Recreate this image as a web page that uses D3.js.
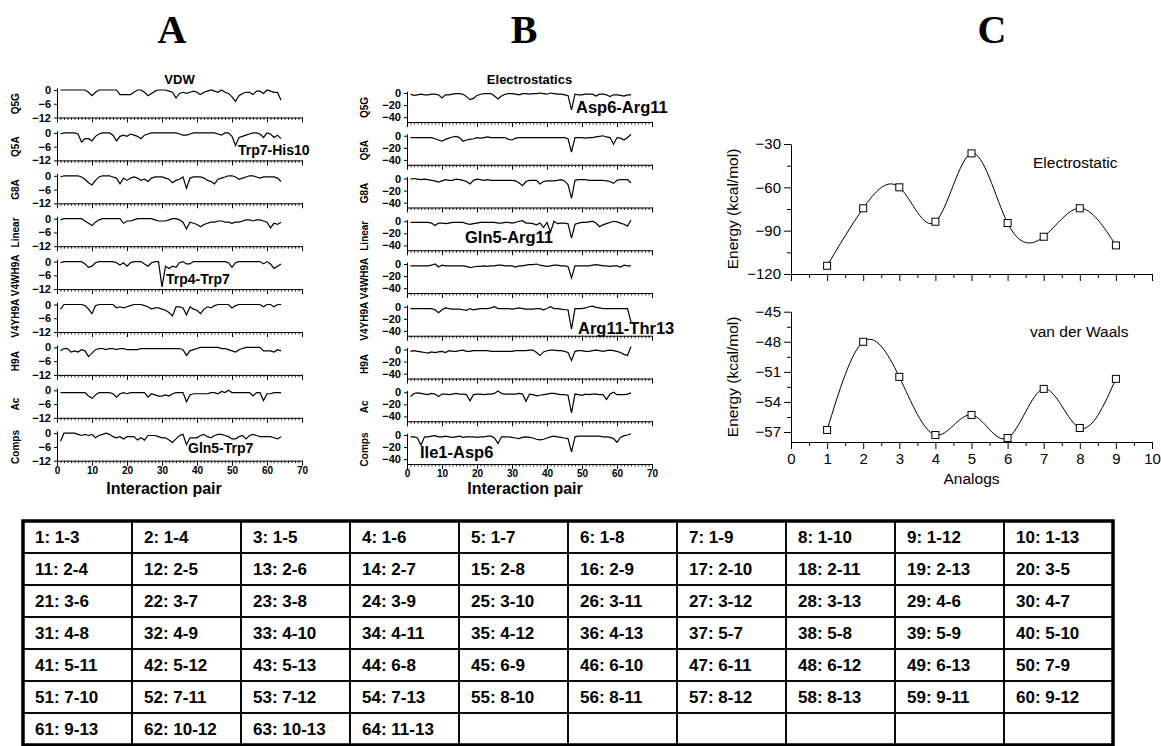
<!DOCTYPE html>
<html><head><meta charset="utf-8">
<script src="https://cdn.jsdelivr.net/npm/d3@7"></script>
<style>body{margin:0;background:#fff}</style>
</head><body><svg id="c" width="1161" height="746"></svg>
<script>
// ---------------- DATA ----------------
const pairIndex = d3.range(1, 65);
const subplotNames = ["Q5G","Q5A","G8A","Linear","V4WH9A","V4YH9A","H9A","Ac","Comps"];

// Panel A: van der Waals per interaction pair (kcal/mol)
const vdwQ5G = [0,0,0,0,0,0,0,0,-1,-2.5,-1,0,0,0,0,0,0,-2,-2,-2,-2,-1,0,0,-1,-2.5,-1.5,-0.5,0,0,0,-0.5,-1,-3.5,-1.5,-1,-1.5,-1,-0.5,-1,-2,-1,-0.5,0,-0.5,-1,0,-1,-1.5,-3,-5,-2.5,-1.5,-1,-1,-2,-0.5,-0.5,-1.5,0,-0.5,-1,-1,-4.5];
const vdwQ5A = [-0.5,0,0,0,0,-0.5,-4,-2.5,-2.5,-3.5,-1.5,-0.5,0,0,0,-1,-3.5,-1.5,-1,-1.5,-0.5,-1,-1.5,-2.5,-1,-0.5,0,0,0,0,0,0,0,0,-0.5,-1,-1,-0.5,0,0,0,0,0,0,0,-0.5,-1,0,0,-1.5,-5.5,-2,-1.5,-1,-0.5,0,0,-0.5,-2,0,-0.5,-2,-1,-2.5];
const vdwG8A = [-0.5,0,0,0,0,0,-0.5,-1.5,-3,-4,-2,-0.5,0,0,0,-0.5,-1,-3.5,-1,-2,-1,-0.5,-1,-2,-1.5,-2.5,-1,-0.5,-0.5,-0.5,-1,-1.5,-3,-2,-1.5,-0.5,-5.5,-1,-0.5,-0.5,-0.5,-1,-2,-2.5,-3.5,-1.5,-1,-0.5,0,0,-0.5,-1.5,-1,-0.5,0,0,-0.5,-1,-0.5,-0.5,-0.5,-0.5,-1,-2.5];
const vdwLinear = [-0.5,0,0,0,0,0,0,-1,-2,-3,-1.5,-0.5,0,0,0,0,0,0,-2,-1,-1,-0.5,0,0,0,0,0,-0.5,-1,-1,-1,-0.5,0,0,-0.5,-1.5,-4.5,-1.5,-2,-2.5,-3.5,-2.5,-2,-1.5,-1.5,-1,-1,-1.5,-1.5,-2,-1.5,-1.5,-1,-0.5,-0.5,-1,-0.5,-0.5,-1,-1.5,-4,-2,-2.5,-1.5];
const vdwV4WH9A = [-0.5,0,0,0,0,0,0,-1,-2.5,-2,-0.5,0,0,0,0,0,-0.5,-1.5,-0.5,-2,-0.5,0,0,0,-1,-2,-0.5,0,0,-11,-2,-3,-2,-2.5,-0.5,0,-1,-1,0,0,0,0,0,0,0,0,0,0,-0.5,-2.5,-0.5,0,0,0,0,0,0,0,-1,0,-1,-3,-2,-1];
const vdwV4YH9A = [-2,0,0,0,0,0,0,-0.5,-2,-4,-0.5,0,0,0,0,0,-1.5,-1,-1.5,-1,-0.5,0,0,0,-0.5,-1,-2,-1.5,-1.5,-2,-2.5,-3.5,-5,-1,-1,-1.5,-4.5,-1,-2,-2.5,-4,-2,-1,-1.5,-0.5,0,0,0,0,-1.5,-0.5,0,0,0,0,0,0,0,-1,0,0,-1,0,0];
const vdwH9A = [-1.5,-0.5,-0.5,-2,-1.5,-2,-1,-1.5,-4,-2.5,-1,-0.5,-0.5,-1,-0.5,-0.5,-1,-0.5,-0.5,-1,-1,-1,-1,-0.5,-0.5,-0.5,-0.5,-0.5,-0.5,-0.5,-0.5,-0.5,-0.5,-0.5,-0.5,-1,-3.5,-1.5,-1,-0.5,0,0,0,0,0,0,-0.5,-0.5,-1,-1.5,-2,-1,-0.5,0,0,0,0,0,-1.5,-1.5,-1.5,-2,-1,-1.5];
const vdwAc = [-1,-1,-1,-1,-1,-1,-1,-1,-2.5,-3.5,-2,-1,-1,-1,-1,-1.5,-3,-1.5,-1,-1.5,-1,-1,-1,-1,-1,-3,-1.5,-2,-2.5,-2.5,-2,-2.5,-1.5,-1,-1,-1,-5,-2,-1.5,-1.5,-1.5,-1.5,-1.5,-1,-1,-1.5,-0.5,-1,0,-1,-1,-1,-1,-1,-1,-2.5,-1,-1,-4.5,-1.5,-1.5,-1,-1,-1];
const vdwComps = [-3.5,0,0,0,0,-0.5,-1,-0.5,-1,-0.5,-2,-1,-0.5,0,-0.5,-1.5,-2,-1.5,-2.5,-1.5,-1.5,-1.5,-3,-2,-3,-1,-1,-1,-1.5,-2,-2,-3,-4,-2.5,-1,-0.5,-5,-2,-2,-2,-1,-0.5,-1.5,-2,-1,-0.5,-0.5,-1,-1.5,-2.5,-2.5,-1.5,-1,-2.5,-1,-0.5,-1,-1.5,-1.5,-1.5,-1.5,-2,-2.5,-1.5];

// Panel B: electrostatics per interaction pair (kcal/mol)
const elQ5G = [-2,-4,-3,-2,-3,-3,-2,-2,-3,-8,-3,-3,-2,-1,-1,-2,-6,-11,-9,-4,-2,-1,-1,-1,-5,-10,-5,-2,-1,-1,-2,-3,-1,-1,-2,-1,-1,0,-1,-2,0,-1,-2,-2,-3,-4,-28,-2,-3,-3,-2,-2,-2,-5,-2,-2,-3,-6,-3,-3,-4,-5,-3,-3];
const elQ5A = [-3,-3,-3,-3,-3,-3,-3,-5,-7,-9,-6,-4,-2,-1,-3,-9,-7,-6,-5,-3,-4,-3,-2,-3,-3,-3,-3,-3,-6,-7,-4,-3,-3,-3,-3,-3,-3,-3,-3,-3,-3,-3,-3,-3,-3,-5,-27,-3,-3,-3,-4,-3,-3,-2,-1,0,-2,-3,-14,-3,-4,-7,-3,2];
const elG8A = [-1,0,-1,-2,-1,-2,-3,-4,-6,-4,-2,-3,-3,-1,-2,-3,-5,-9,-3,-1,-2,-3,-2,-3,-3,-3,-3,-3,-3,-3,-4,-7,-12,-5,-3,-3,-3,-9,-5,-4,-4,-4,-3,-2,-4,-10,-33,-3,-2,-2,-2,-3,-3,-3,-3,-3,-4,-5,-8,-3,-2,-2,-2,-7];
const elLinear = [-2,-2,-2,-2,-2,-2,-3,-7,-3,-3,-4,-3,-2,-2,-2,-2,-4,-5,-4,-3,-2,-2,-2,-2,-2,-3,-3,-2,-2,-3,-2,0,1,-3,-3,-4,-6,-3,-10,-2,-18,0,-4,-3,-3,-4,-28,-5,-3,-2,-2,-1,0,-3,-9,-6,-4,-2,0,-1,-3,-5,-8,2];
const elV4WH9A = [-3,-3,-3,-3,-3,-3,-2,0,-5,-2,-3,-3,-3,-3,-3,-3,-4,-6,-5,-4,-4,-3,-4,-3,-3,-2,-2,-3,-3,-3,-5,-3,-3,-2,-1,-1,0,-2,-3,-4,-3,-2,-2,-3,-3,-4,-23,-3,-3,-3,-3,-3,-2,-1,-2,-3,-3,-4,-3,-3,-5,-2,-3,-3];
const elV4YH9A = [-3,-3,-3,-3,-3,-3,-3,-5,-10,-5,-2,-3,-4,-4,-4,-5,-6,-3,-5,-4,-3,-3,-3,-2,0,-3,-3,-3,-3,-4,-3,-2,-3,-4,-4,-4,-3,-3,-5,-3,0,-3,-3,-4,-5,-5,-37,-3,-3,-3,-2,0,1,-1,-2,-3,-3,-3,-3,-3,-3,-3,-3,-25];
const elH9A = [-3,-2,-3,-4,-5,-6,-4,-5,-4,-3,-5,-2,-3,-3,-2,-1,-3,-3,-2,-2,-2,-2,-2,-3,-3,-3,-3,-3,-3,-3,-2,-2,-2,-2,-1,-1,-5,-10,-4,-2,-1,-1,-2,-2,-3,-5,-18,-3,-2,-2,-3,-3,-2,-1,-2,-3,-2,-1,-2,-3,-5,-8,-10,5];
const elAc = [-7,-2,-1,-2,-3,-4,-2,-3,-7,-3,-3,-4,-3,-2,-3,-3,-4,-14,-4,-3,-3,-4,-3,-3,-2,2,-2,-3,-3,-3,-3,-2,-3,-15,-3,-4,-6,-5,-4,-3,-2,-2,-3,-4,-4,-5,-34,-3,-4,-5,-3,-4,-3,-3,-4,-4,-12,-3,0,-4,-4,-4,-3,-1];
const elComps = [-3,-3,-5,-17,-3,-3,-2,-1,-3,-3,-2,-3,-4,-3,-2,-4,-3,-3,-3,-4,-3,-3,-2,-2,-5,-14,-3,-3,-3,-4,-5,-6,-4,-3,-4,-5,-7,-8,-7,-5,-3,-2,-3,-4,-5,-6,-28,-3,-2,-2,-2,-2,-2,-2,-2,-3,-3,-4,-6,-12,-4,-1,0,2];

const vdwSeries = [vdwQ5G, vdwQ5A, vdwG8A, vdwLinear, vdwV4WH9A, vdwV4YH9A, vdwH9A, vdwAc, vdwComps];
const elecSeries = [elQ5G, elQ5A, elG8A, elLinear, elV4WH9A, elV4YH9A, elH9A, elAc, elComps];
const vdwTicks = [0, -6, -12];
const elecTicks = [0, -20, -40];
const pairTicks = [0, 10, 20, 30, 40, 50, 60, 70];

// Panel C: total energies per analog
const analogs = [1, 2, 3, 4, 5, 6, 7, 8, 9];
const elecTotal = [-114.3, -74.5, -60, -83.8, -36.5, -84.7, -94.2, -74.5, -100.2];
const vdwTotal = [-56.8, -48, -51.5, -57.3, -55.3, -57.6, -52.7, -56.6, -51.7];
const analogTicks = [0, 1, 2, 3, 4, 5, 6, 7, 8, 9, 10];
const elecTotalTicks = [-30, -60, -90, -120];
const vdwTotalTicks = [-45, -48, -51, -54, -57];

// Table of interaction pairs
const pairLabels = ["1-3","1-4","1-5","1-6","1-7","1-8","1-9","1-10","1-12","1-13",
 "2-4","2-5","2-6","2-7","2-8","2-9","2-10","2-11","2-13","3-5",
 "3-6","3-7","3-8","3-9","3-10","3-11","3-12","3-13","4-6","4-7",
 "4-8","4-9","4-10","4-11","4-12","4-13","5-7","5-8","5-9","5-10",
 "5-11","5-12","5-13","6-8","6-9","6-10","6-11","6-12","6-13","7-9",
 "7-10","7-11","7-12","7-13","8-10","8-11","8-12","8-13","9-11","9-12",
 "9-13","10-12","10-13","11-13"];

// ---------------- DRAW ----------------
const svg = d3.select("#c");
svg.append("rect").attr("width", 1161).attr("height", 746).attr("fill", "#fff");
const SANS = "'Liberation Sans', Arial, sans-serif";

function styleAxis(g, size, weight) {
  g.attr("font-family", SANS).attr("font-size", size).attr("font-weight", weight);
  g.selectAll("path,line").attr("stroke", "#000").attr("stroke-width", 1);
  g.selectAll("text").attr("fill", "#000");
}

function stackPanel(o) {
  const x = d3.scaleLinear().domain([0, 70]).range([o.x0, o.x1]);
  const g = svg.append("g");
  o.series.forEach((vals, k) => {
    const t = o.top0 + k * o.step;
    const y = d3.scaleLinear().domain([o.ymin, 0]).range([t + o.h, t]);
    const yTop = y(o.ymax);
    const ya = g.append("g").attr("transform", `translate(${o.x0},0)`)
      .call(d3.axisLeft(y.copy().domain([o.ymin, o.ymax]).range([t + o.h, yTop]))
        .tickValues(o.ticks).tickSize(3).tickSizeOuter(0).tickPadding(3));
    styleAxis(ya, o.tickFont, "bold");
    const xa = g.append("g").attr("transform", `translate(0,${t + o.h})`)
      .call(d3.axisBottom(x).tickValues(pairTicks).tickSize(5).tickSizeOuter(0)
        .tickFormat(k === o.series.length - 1 ? d3.format("d") : () => "").tickPadding(1));
    styleAxis(xa, 10, "bold");
    const xm = g.append("g").attr("transform", `translate(0,${t + o.h})`)
      .call(d3.axisBottom(x).tickValues(d3.range(0, 71)).tickSize(2.5).tickFormat(() => ""));
    xm.select(".domain").remove();
    styleAxis(xm, 10, "bold");
    xm.selectAll("line").attr("stroke-width", 0.8);
    g.append("text").attr("transform", `translate(${o.nameX},${t + o.h / 2}) rotate(-90)`)
      .attr("text-anchor", "middle").attr("dy", "0.35em")
      .attr("font-family", SANS).attr("font-weight", "bold").attr("font-size", 10)
      .text(subplotNames[k]);
    const line = d3.line().x((d, i) => x(pairIndex[i])).y(d => y(d));
    g.append("path").datum(vals).attr("d", line).attr("fill", "none")
      .attr("stroke", "#000").attr("stroke-width", 1.2);
  });
  g.append("text").attr("x", (o.x0 + o.x1) / 2).attr("y", o.titleY).attr("text-anchor", "middle")
    .attr("font-family", SANS).attr("font-weight", "bold").attr("font-size", 13).text(o.title);
  g.append("text").attr("x", o.xLabelX).attr("y", o.xLabelY).attr("text-anchor", "middle")
    .attr("font-family", SANS).attr("font-weight", "bold").attr("font-size", 16).text("Interaction pair");
  return g;
}

stackPanel({series: vdwSeries, x0: 57, x1: 302, top0: 90, step: 42.9, h: 27.5,
  ymin: -12, ymax: 1, ticks: vdwTicks, tickFont: 11, nameX: 15, title: "VDW", titleY: 84,
  xLabelX: 164, xLabelY: 494});
stackPanel({series: elecSeries, x0: 407, x1: 652, top0: 93, step: 42.75, h: 29,
  ymin: -48, ymax: 3, ticks: elecTicks, tickFont: 11, nameX: 364, title: "Electrostatics", titleY: 84,
  xLabelX: 525, xLabelY: 494});

function annot(txt, x, y, size) {
  svg.append("text").attr("x", x).attr("y", y).attr("font-family", SANS)
    .attr("font-weight", "bold").attr("font-size", size).attr("fill", "#000").text(txt);
}
annot("Trp7-His10", 238, 155, 14);
annot("Trp4-Trp7", 166, 284, 14);
annot("Gln5-Trp7", 188, 453, 14);
annot("Asp6-Arg11", 576, 113, 16.5);
annot("Gln5-Arg11", 465, 243, 16.5);
annot("Arg11-Thr13", 578, 334, 16.5);
annot("Ile1-Asp6", 420, 458, 16.5);

[["A", 172], ["B", 524], ["C", 992]].forEach(([t, x]) => {
  svg.append("text").attr("x", x).attr("y", 43).attr("text-anchor", "middle")
    .attr("font-family", "'Liberation Serif', 'Times New Roman', serif").attr("font-weight", "bold")
    .attr("font-size", 40).text(t);
});

// Panel C
const xC = d3.scaleLinear().domain([0, 10]).range([791, 1152]);
function linePanel(vals, domain, r0, r1, ticks, minors, showLabels, label, labelX, labelY) {
  const y = d3.scaleLinear().domain(domain).range([r0, r1]);
  const g = svg.append("g");
  const ya = g.append("g").attr("transform", `translate(${xC(0)},0)`)
    .call(d3.axisLeft(y).tickValues(ticks).tickSize(7).tickSizeOuter(0).tickPadding(3));
  styleAxis(ya, 15, "normal");
  const ym = g.append("g").attr("transform", `translate(${xC(0)},0)`)
    .call(d3.axisLeft(y).tickValues(minors).tickSize(4).tickFormat(() => ""));
  ym.select(".domain").remove(); styleAxis(ym, 15, "normal");
  const xa = g.append("g").attr("transform", `translate(0,${r0})`)
    .call(d3.axisBottom(xC).tickValues(analogTicks).tickSize(7).tickSizeOuter(0)
      .tickFormat(showLabels ? d3.format("d") : () => "").tickPadding(4));
  styleAxis(xa, 15, "normal");
  const xm = g.append("g").attr("transform", `translate(0,${r0})`)
    .call(d3.axisBottom(xC).tickValues(d3.range(0.5, 10, 1)).tickSize(4).tickFormat(() => ""));
  xm.select(".domain").remove(); styleAxis(xm, 15, "normal");
  const line = d3.line().x((d, i) => xC(analogs[i])).y(d => y(d)).curve(d3.curveNatural);
  g.append("path").datum(vals).attr("d", line).attr("fill", "none").attr("stroke", "#000").attr("stroke-width", 1);
  g.selectAll("rect.m").data(vals).join("rect").attr("class", "m")
    .attr("x", (d, i) => xC(analogs[i]) - 3.5).attr("y", d => y(d) - 3.5)
    .attr("width", 7).attr("height", 7).attr("fill", "#fff").attr("stroke", "#000").attr("stroke-width", 1);
  g.append("text").attr("x", labelX).attr("y", labelY).attr("font-family", SANS)
    .attr("font-size", 15.5).text(label);
  g.append("text").attr("transform", `translate(733,${(r0 + r1) / 2}) rotate(-90)`)
    .attr("text-anchor", "middle").attr("dy", "0.35em").attr("font-family", SANS)
    .attr("font-size", 15.5).text("Energy (kcal/mol)");
}
linePanel(elecTotal, [-120, -30], 274, 144, elecTotalTicks, [-45, -75, -105], false, "Electrostatic", 1033, 168);
linePanel(vdwTotal, [-58, -45], 442, 311.7, vdwTotalTicks, [-46.5, -49.5, -52.5, -55.5], true, "van der Waals", 1030, 337);
svg.append("text").attr("x", (xC(0) + xC(10)) / 2).attr("y", 484).attr("text-anchor", "middle")
  .attr("font-family", SANS).attr("font-size", 15.5).text("Analogs");

// Table
const tLeft = 23, tTop = 521, colW = 109, rowH = 32, nCols = 10, nRows = 7;
const tg = svg.append("g");
const cells = d3.range(nRows * nCols);
tg.selectAll("rect.cell").data(cells).join("rect").attr("class", "cell")
  .attr("x", d => tLeft + (d % nCols) * colW).attr("y", d => tTop + Math.floor(d / nCols) * rowH)
  .attr("width", colW).attr("height", rowH).attr("fill", "none").attr("stroke", "#000").attr("stroke-width", 1.6);
tg.append("rect").attr("x", tLeft).attr("y", tTop).attr("width", colW * nCols).attr("height", rowH * nRows)
  .attr("fill", "none").attr("stroke", "#000").attr("stroke-width", 3.5);
tg.selectAll("text.cell").data(pairLabels).join("text").attr("class", "cell")
  .attr("x", (d, i) => tLeft + (i % nCols) * colW + 12)
  .attr("y", (d, i) => tTop + Math.floor(i / nCols) * rowH + rowH / 2 + 6)
  .attr("font-family", SANS).attr("font-weight", "bold").attr("font-size", 17)
  .text((d, i) => `${i + 1}: ${d}`);
</script></body></html>
